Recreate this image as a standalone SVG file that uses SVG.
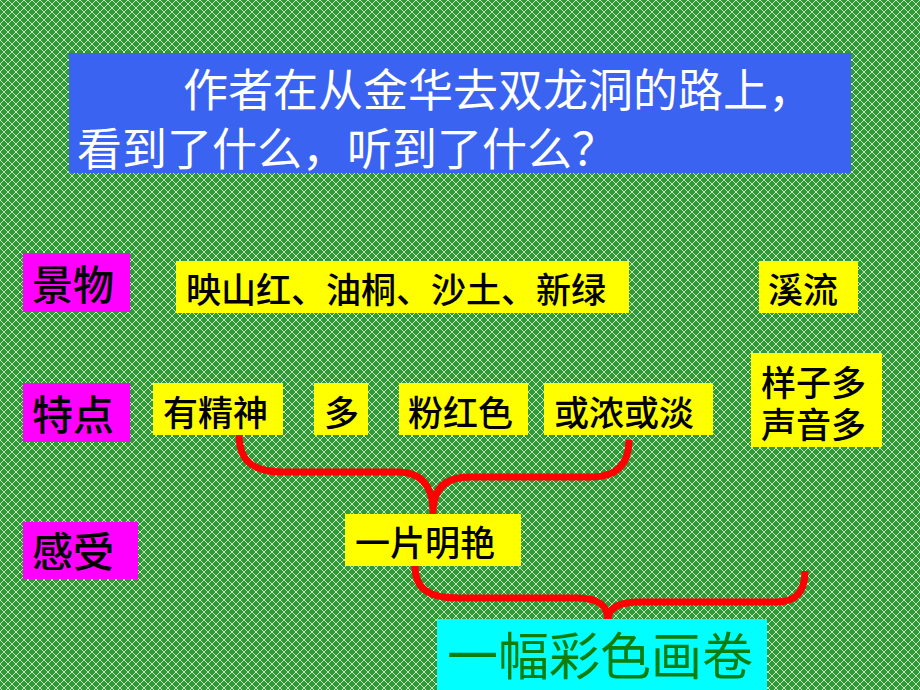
<svg xmlns="http://www.w3.org/2000/svg" width="920" height="690" viewBox="0 0 920 690">
  <defs>
    <pattern id="bg" width="8" height="8" patternUnits="userSpaceOnUse">
      <rect width="8" height="8" fill="#2f9a36"/>
      <polygon points="4,1.8 6.2,4 4,6.2 1.8,4" fill="#23892b"/>
      <path d="M0,0 L8,8 M8,0 L0,8" stroke="#d8ecd2" stroke-width="0.9"/>
    </pattern>
    <style>
      .cjk { font-family: "Noto Sans CJK SC", "Noto Sans", sans-serif; }
      .lbl { fill: #ff00ff; }
      .yel { fill: #ffff00; }
      .t { font-size: 35px; fill: #000000; font-weight: 500; }
      .lt { font-size: 41px; fill: #000000; font-weight: 500; }
      .brace { fill: none; stroke: #ff0000; stroke-width: 7; stroke-linecap: butt; stroke-linejoin: round; }
    </style>
  </defs>

  <rect width="920" height="690" fill="url(#bg)"/>

  <g id="title">
    <rect x="69" y="53" width="782" height="120" fill="#3a63f2"/>
    <text class="cjk" x="183" y="107" font-size="45" fill="#ffffff">作者在从金华去双龙洞的路上，</text>
    <text class="cjk" x="77" y="166" font-size="45" fill="#ffffff">看到了什么，听到了什么？</text>
  </g>

  <g id="connectors">
    <path class="brace" d="M239,435 C239,460 252,472 282,472 L398,472 C422,472 433,487 433,512 C433,490 444,477 470,477 L592,477 C616,477 629,465 629,440"/>
    <path class="brace" d="M415,566 C415,588 428,598 458,598 L578,598 C598,598 608,606 608,620 C608,608 618,602 640,602 L776,602 C796,602 805,592 805,571"/>
  </g>

  <g id="label-jingwu">
    <rect class="lbl" x="23" y="253" width="107" height="59"/>
    <text class="cjk lt" x="32" y="300">景物</text>
  </g>
  <g id="label-tedian">
    <rect class="lbl" x="23" y="383" width="107" height="59"/>
    <text class="cjk lt" x="32" y="430">特点</text>
  </g>
  <g id="label-ganshou">
    <rect class="lbl" x="23" y="522" width="115" height="57"/>
    <text class="cjk lt" x="32" y="567" font-size="40">感受</text>
  </g>

  <g id="scenery">
    <rect class="yel" x="176" y="261" width="453" height="52"/>
    <text class="cjk t" x="186" y="303">映山红、油桐、沙土、新绿</text>
  </g>
  <g id="stream">
    <rect class="yel" x="759" y="261" width="99" height="52"/>
    <text class="cjk t" x="768" y="303">溪流</text>
  </g>

  <g id="feature-1">
    <rect class="yel" x="153" y="383" width="130" height="52"/>
    <text class="cjk t" x="163" y="426">有精神</text>
  </g>
  <g id="feature-2">
    <rect class="yel" x="314" y="383" width="54" height="52"/>
    <text class="cjk t" x="324" y="426">多</text>
  </g>
  <g id="feature-3">
    <rect class="yel" x="399" y="383" width="129" height="52"/>
    <text class="cjk t" x="408" y="426">粉红色</text>
  </g>
  <g id="feature-4">
    <rect class="yel" x="544" y="383" width="169" height="52"/>
    <text class="cjk t" x="554" y="426">或浓或淡</text>
  </g>
  <g id="feature-stream">
    <rect class="yel" x="751" y="353" width="131" height="94"/>
    <text class="cjk t"><tspan x="761" y="396">样子多</tspan><tspan x="761" y="438">声音多</tspan></text>
  </g>

  <g id="feeling">
    <rect class="yel" x="345" y="514" width="176" height="52"/>
    <text class="cjk t" x="355" y="556">一片明艳</text>
  </g>

  <g id="conclusion">
    <rect x="437" y="619" width="330" height="71" fill="#00ffff"/>
    <text class="cjk" x="447" y="675" font-size="51" fill="#0d7d0d">一幅彩色画卷</text>
  </g>
</svg>
